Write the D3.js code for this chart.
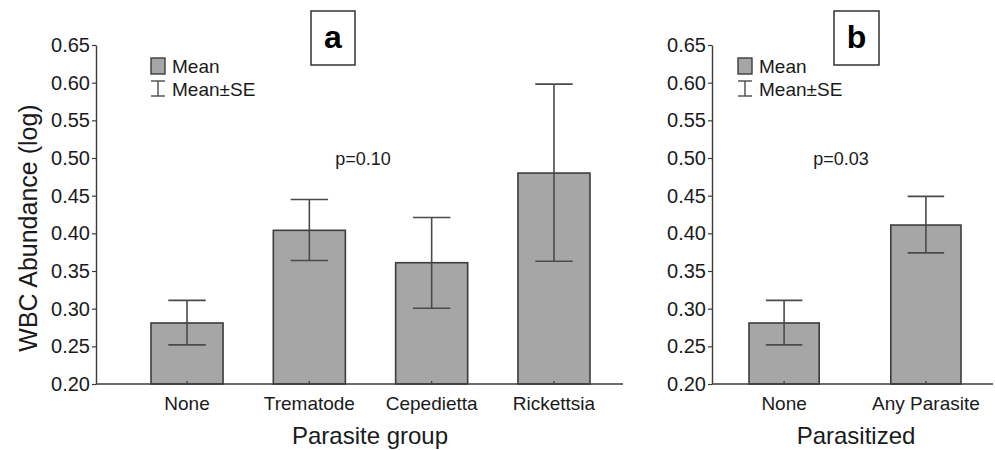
<!DOCTYPE html>
<html>
<head>
<meta charset="utf-8">
<script src="https://cdn.jsdelivr.net/npm/d3@7"></script>
<style>
  html, body { margin: 0; padding: 0; background: #fff; }
  svg { display: block; font-family: "Liberation Sans", Arial, Helvetica, sans-serif; }
</style>
</head>
<body>
<svg id="chart" width="995" height="450"></svg>
<script>
// ---- Data ----
const groupsA = ["None", "Trematode", "Cepedietta", "Rickettsia"];
const meansA  = [0.281, 0.404, 0.361, 0.480];
const upperA  = [0.311, 0.445, 0.421, 0.598];
const lowerA  = [0.252, 0.364, 0.3005, 0.363];

const groupsB = ["None", "Any Parasite"];
const meansB  = [0.281, 0.411];
const upperB  = [0.311, 0.449];
const lowerB  = [0.252, 0.374];

const yTicks = [0.20, 0.25, 0.30, 0.35, 0.40, 0.45, 0.50, 0.55, 0.60, 0.65];
const panelLabels = ["a", "b"];
const xTitles = ["Parasite group", "Parasitized"];
const pLabels = ["p=0.10", "p=0.03"];
const legendLabels = ["Mean", "Mean\u00B1SE"];
const yTitle = "WBC Abundance (log)";

// ---- Layout ----
const svg = d3.select("#chart");
const barFill = "#a6a6a6", dark = "#3c3c3c", textCol = "#1a1a1a";
const y = d3.scaleLinear().domain([0.20, 0.65]).range([384, 45]);

const panels = [
  { groups: groupsA, means: meansA, upper: upperA, lower: lowerA,
    axisX: 96, axisEnd: 623, bandRange: [151, 590], padInner: 0.411,
    box: [311, 11, 44, 54], legendX: 151, pX: 363, titleX: 370 },
  { groups: groupsB, means: meansB, upper: upperB, lower: lowerB,
    axisX: 712, axisEnd: 993, bandRange: [749, 961], padInner: 0.505,
    box: [834, 11, 45, 54], legendX: 738, pX: 841, titleX: 856 }
];

panels.forEach((p, i) => {
  const g = svg.append("g");
  const x = d3.scaleBand().domain(p.groups).range(p.bandRange)
    .paddingInner(p.padInner).paddingOuter(0);
  const data = p.groups.map((c, k) => ({ c, m: p.means[k], hi: p.upper[k], lo: p.lower[k] }));

  // bars
  g.selectAll("rect.bar").data(data).join("rect")
    .attr("class", "bar")
    .attr("x", d => x(d.c))
    .attr("y", d => y(d.m))
    .attr("width", x.bandwidth())
    .attr("height", d => y(0.20) - y(d.m))
    .attr("fill", barFill)
    .attr("stroke", dark)
    .attr("stroke-width", 1.6);

  // error bars
  const capW = x.bandwidth() * 0.52;
  const eb = g.selectAll("g.err").data(data).join("g").attr("class", "err")
    .attr("stroke", "#4a4a4a").attr("stroke-width", 1.6);
  eb.append("line")
    .attr("x1", d => x(d.c) + x.bandwidth() / 2).attr("x2", d => x(d.c) + x.bandwidth() / 2)
    .attr("y1", d => y(d.hi)).attr("y2", d => y(d.lo));
  eb.append("line")
    .attr("x1", d => x(d.c) + x.bandwidth() / 2 - capW / 2).attr("x2", d => x(d.c) + x.bandwidth() / 2 + capW / 2)
    .attr("y1", d => y(d.hi)).attr("y2", d => y(d.hi));
  eb.append("line")
    .attr("x1", d => x(d.c) + x.bandwidth() / 2 - capW / 2).attr("x2", d => x(d.c) + x.bandwidth() / 2 + capW / 2)
    .attr("y1", d => y(d.lo)).attr("y2", d => y(d.lo));

  // y axis
  const ya = g.append("g").attr("transform", `translate(${p.axisX},0)`)
    .call(d3.axisLeft(y).tickValues(yTicks).tickFormat(d3.format(".2f"))
      .tickSizeInner(4).tickSizeOuter(0).tickPadding(2));
  ya.select(".domain").attr("stroke", dark).attr("stroke-width", 1.4);
  ya.selectAll(".tick line").attr("stroke", dark).attr("stroke-width", 1.2);
  ya.selectAll(".tick text").attr("font-size", 20).attr("fill", textCol)
    .attr("font-family", "Liberation Sans, Arial, sans-serif");

  // x axis
  const xa = g.append("g").attr("transform", `translate(0,${y(0.20)})`)
    .call(d3.axisBottom(x).tickSizeInner(-3).tickSizeOuter(0).tickPadding(13));
  xa.select(".domain").remove();
  xa.selectAll(".tick line").attr("stroke", dark).attr("stroke-width", 1.2);
  xa.selectAll(".tick text").attr("font-size", 19).attr("fill", textCol)
    .attr("font-family", "Liberation Sans, Arial, sans-serif");
  g.append("line")
    .attr("x1", p.axisX).attr("x2", p.axisEnd)
    .attr("y1", y(0.20)).attr("y2", y(0.20))
    .attr("stroke", dark).attr("stroke-width", 1.4);

  // x title
  g.append("text").attr("x", p.titleX).attr("y", 444)
    .attr("text-anchor", "middle").attr("font-size", 24).attr("fill", textCol)
    .text(xTitles[i]);

  // p-value
  g.append("text").attr("x", p.pX).attr("y", 165)
    .attr("text-anchor", "middle").attr("font-size", 18).attr("fill", textCol)
    .text(pLabels[i]);

  // panel label box
  g.append("rect").attr("x", p.box[0]).attr("y", p.box[1])
    .attr("width", p.box[2]).attr("height", p.box[3])
    .attr("fill", "#fff").attr("stroke", "#333").attr("stroke-width", 1.5);
  g.append("text").attr("x", p.box[0] + p.box[2] / 2).attr("y", 48)
    .attr("text-anchor", "middle").attr("font-size", 32).attr("font-weight", "bold")
    .attr("fill", "#000").text(panelLabels[i]);

  // legend
  const lx = p.legendX;
  g.append("rect").attr("x", lx).attr("y", 58).attr("width", 14).attr("height", 16)
    .attr("fill", barFill).attr("stroke", dark).attr("stroke-width", 1.4);
  const li = g.append("g").attr("stroke", "#4a4a4a").attr("stroke-width", 1.4);
  li.append("line").attr("x1", lx + 7).attr("x2", lx + 7).attr("y1", 81).attr("y2", 96);
  li.append("line").attr("x1", lx).attr("x2", lx + 14).attr("y1", 81).attr("y2", 81);
  li.append("line").attr("x1", lx).attr("x2", lx + 14).attr("y1", 96).attr("y2", 96);
  g.append("text").attr("x", lx + 21).attr("y", 73).attr("font-size", 19)
    .attr("fill", textCol).text(legendLabels[0]);
  g.append("text").attr("x", lx + 21).attr("y", 96).attr("font-size", 19)
    .attr("fill", textCol).text(legendLabels[1]);
});

// y title (left only)
svg.append("text")
  .attr("transform", "translate(37,228) rotate(-90)")
  .attr("text-anchor", "middle").attr("font-size", 25).attr("fill", textCol)
  .text(yTitle);
</script>
</body>
</html>
